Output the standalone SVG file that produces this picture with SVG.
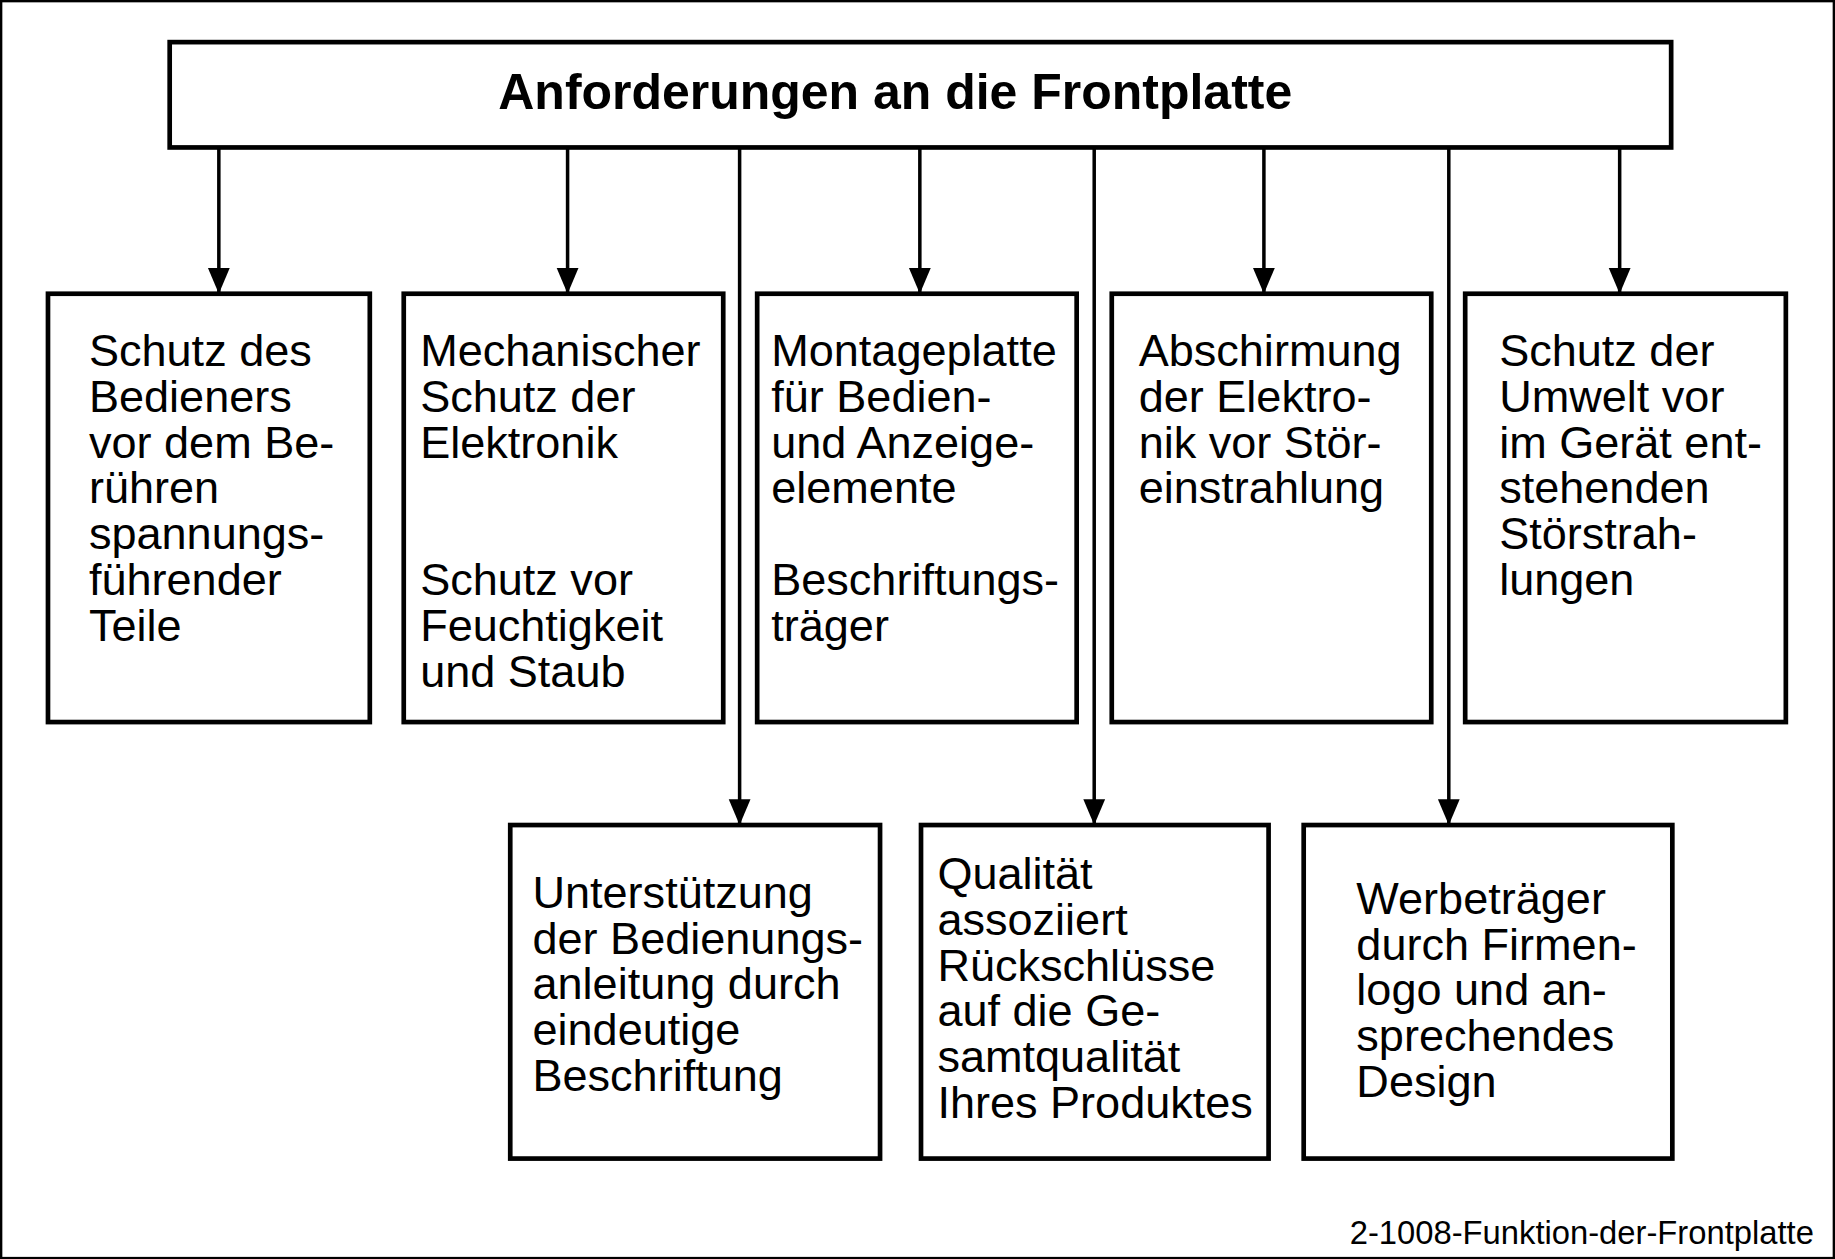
<svg xmlns="http://www.w3.org/2000/svg" width="1835" height="1259" viewBox="0 0 1835 1259">
<style>
.b{fill:#fff;stroke:#000;stroke-width:4}
.t{font-family:"Liberation Sans",Arial,sans-serif;font-size:38.5px;fill:#000}
.c{stroke:#000;stroke-width:3;fill:none}
</style>
<defs>
<marker id="ah" markerWidth="22" markerHeight="26" refX="26" refY="11" orient="auto" markerUnits="userSpaceOnUse" viewBox="0 0 26 22"><path d="M0,0L26,11L0,22z" fill="#000"/></marker></defs>
<rect width="1835" height="1259" fill="#fff"/>
<g transform="scale(1.17028)">
<rect x="1" y="1" width="1566" height="1074" fill="none" stroke="#000" stroke-width="2"/>
<g id="title"><rect class="b" x="145" y="36" width="1283" height="90" stroke-width="5"/>
<text x="765" y="93" text-anchor="middle" style="font-family:'Liberation Sans',Arial,sans-serif;font-size:42.7px;font-weight:bold">Anforderungen an die Frontplatte</text></g>
<g id="connectors">
<path class="c" marker-end="url(#ah)" d="M187,126V251"/>
<path class="c" marker-end="url(#ah)" d="M485,126V251"/>
<path class="c" marker-end="url(#ah)" d="M786,126V251"/>
<path class="c" marker-end="url(#ah)" d="M1080,126V251"/>
<path class="c" marker-end="url(#ah)" d="M1384,126V251"/>
<path class="c" marker-end="url(#ah)" d="M632,126V705"/>
<path class="c" marker-end="url(#ah)" d="M935,126V705"/>
<path class="c" marker-end="url(#ah)" d="M1238,126V705"/>
</g>
<g id="n1"><rect class="b" x="41" y="251" width="275" height="366"/><text class="t"><tspan x="76" y="313">Schutz des</tspan><tspan x="76" y="352">Bedieners</tspan><tspan x="76" y="391">vor dem Be-</tspan><tspan x="76" y="430">rühren</tspan><tspan x="76" y="469">spannungs-</tspan><tspan x="76" y="508">führender</tspan><tspan x="76" y="548">Teile</tspan></text></g>
<g id="n2"><rect class="b" x="345" y="251" width="273" height="366"/><text class="t"><tspan x="359" y="313">Mechanischer</tspan><tspan x="359" y="352">Schutz der</tspan><tspan x="359" y="391">Elektronik</tspan><tspan x="359" y="508">Schutz vor</tspan><tspan x="359" y="548">Feuchtigkeit</tspan><tspan x="359" y="587">und Staub</tspan></text></g>
<g id="n3"><rect class="b" x="647" y="251" width="273" height="366"/><text class="t"><tspan x="659" y="313">Montageplatte</tspan><tspan x="659" y="352">für Bedien-</tspan><tspan x="659" y="391">und Anzeige-</tspan><tspan x="659" y="430">elemente</tspan><tspan x="659" y="508">Beschriftungs-</tspan><tspan x="659" y="548">träger</tspan></text></g>
<g id="n4"><rect class="b" x="950" y="251" width="273" height="366"/><text class="t"><tspan x="973" y="313">Abschirmung</tspan><tspan x="973" y="352">der Elektro-</tspan><tspan x="973" y="391">nik vor Stör-</tspan><tspan x="973" y="430">einstrahlung</tspan></text></g>
<g id="n5"><rect class="b" x="1252" y="251" width="274" height="366"/><text class="t"><tspan x="1281" y="313">Schutz der</tspan><tspan x="1281" y="352">Umwelt vor</tspan><tspan x="1281" y="391">im Gerät ent-</tspan><tspan x="1281" y="430">stehenden</tspan><tspan x="1281" y="469">Störstrah-</tspan><tspan x="1281" y="508">lungen</tspan></text></g>
<g id="n6"><rect class="b" x="436" y="705" width="316" height="285"/><text class="t"><tspan x="455" y="776">Unterstützung</tspan><tspan x="455" y="815">der Bedienungs-</tspan><tspan x="455" y="854">anleitung durch</tspan><tspan x="455" y="893">eindeutige</tspan><tspan x="455" y="932">Beschriftung</tspan></text></g>
<g id="n7"><rect class="b" x="787" y="705" width="297" height="285"/><text class="t"><tspan x="801" y="760">Qualität</tspan><tspan x="801" y="799">assoziiert</tspan><tspan x="801" y="838">Rückschlüsse</tspan><tspan x="801" y="877">auf die Ge-</tspan><tspan x="801" y="916">samtqualität</tspan><tspan x="801" y="955">Ihres Produktes</tspan></text></g>
<g id="n8"><rect class="b" x="1114" y="705" width="315" height="285"/><text class="t"><tspan x="1159" y="781">Werbeträger</tspan><tspan x="1159" y="820">durch Firmen-</tspan><tspan x="1159" y="859">logo und an-</tspan><tspan x="1159" y="898">sprechendes</tspan><tspan x="1159" y="937">Design</tspan></text></g>
<text x="1550" y="1063" text-anchor="end" style="font-family:'Liberation Sans',Arial,sans-serif;font-size:28px">2-1008-Funktion-der-Frontplatte</text>
</g>
</svg>
